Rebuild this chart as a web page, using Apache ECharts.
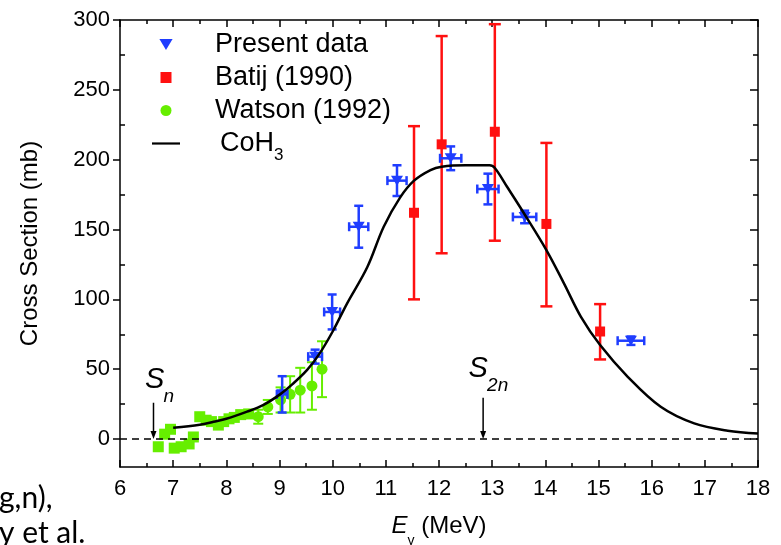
<!DOCTYPE html>
<html><head><meta charset="utf-8">
<script src="https://cdn.jsdelivr.net/npm/echarts@6/dist/echarts.min.js"></script>
<style>html,body{margin:0;padding:0;background:#fff}#c{width:781px;height:545px}</style>
</head><body><div id="c"></div>
<script>
// ---- data ----
const xTicks = [6,7,8,9,10,11,12,13,14,15,16,17,18];
const xMinorTicks = [6.5,7.5,8.5,9.5,10.5,11.5,12.5,13.5,14.5,15.5,16.5,17.5];
const yTicks = [0,50,100,150,200,250,300];
const yMinorTicks = [25,75,125,175,225,275];

const presentX    = [9.05, 9.67, 9.99, 10.49, 11.21, 12.22, 12.92, 13.61, 15.61];
const presentY    = [32, 59, 91, 152, 185, 201, 179, 159, 70.4];
const presentYErr = [13, 5, 12.5, 15, 11, 8.5, 11, 4.5, 3];
const presentXErr = [0.1, 0.13, 0.15, 0.18, 0.18, 0.2, 0.2, 0.22, 0.25];

const batijX    = [11.53, 12.05, 13.05, 14.02, 15.03];
const batijY    = [162, 211, 220, 154, 77];
const batijLow  = [100, 133, 142, 95, 57];
const batijHigh = [224, 288.5, 297, 212, 96.6];

const watsonX   = [6.72, 6.84, 6.95, 7.02, 7.15, 7.3, 7.38, 7.5, 7.62, 7.72, 7.85, 7.95, 8.05, 8.15, 8.27, 8.42, 8.6, 8.78, 9.02, 9.2, 9.39, 9.61, 9.8];
const watsonY   = [-5.5, 3.5, 7, -6.5, -5.5, -3.5, 1.5, 16, 13.5, 12.5, 10, 12.5, 14.5, 15.5, 17.5, 18, 16, 23, 28, 32, 35, 38, 50];
const watsonErr = [0, 0, 0, 0, 0, 0, 0, 0, 0, 0, 0, 0, 0, 0, 0, 0, 5, 5, 9, 13, 16, 17, 20];

const cohX = [7.0, 7.5, 7.76, 8.0, 8.39, 8.7, 9.01, 9.25, 9.52, 9.75, 10.0, 10.27, 10.65, 10.96, 11.27, 11.53, 11.84, 12.05, 12.5, 12.95, 13.05, 13.28, 13.6, 14.02, 14.35, 14.67, 15.03, 15.55, 16.17, 16.8, 17.43, 18.0];
const cohY = [8.1, 10.3, 12.4, 14.5, 19.6, 24.5, 32, 39.5, 49.5, 61, 77, 97, 123, 152, 173, 185, 192.6, 195, 196, 196, 194, 180.6, 161.5, 135.3, 111.5, 87.5, 67.3, 44.6, 23.1, 11.2, 6, 4];

const markMain   = ['S', 'S'];
const markSub    = ['n', '2n'];
const markLabelX = [6.65, 12.735];
const markLabelY = [42, 50];
const arrowX     = [6.63, 12.83];
const arrowTop   = [26, 29.5];

// ---- build ----
const FONT = '"Liberation Sans", Arial, sans-serif';
const BLUE = '#1f3dff', RED = '#ff1010', GREEN = '#66ee00';

const zip = (a, b) => a.map((v, i) => [v, b[i]]);
const presentErr = presentX.map((x, i) => [x, presentY[i], presentY[i] - presentYErr[i], presentY[i] + presentYErr[i], x - presentXErr[i], x + presentXErr[i]]);
const batijErr = batijX.map((x, i) => [x, batijY[i], batijLow[i], batijHigh[i], x, x]);
const watsonErrData = watsonX.map((x, i) => [x, watsonY[i], watsonY[i] - watsonErr[i], watsonY[i] + watsonErr[i], x, x]).filter(d => d[3] > d[2]);
const marks = markMain.map((m, i) => [markLabelX[i], markLabelY[i], arrowX[i], arrowTop[i]]);

function errRender(color, capV, capH, lw) {
  return function (params, api) {
    const x = api.value(0), y = api.value(1), ylo = api.value(2), yhi = api.value(3), xlo = api.value(4), xhi = api.value(5);
    const style = { stroke: color, lineWidth: lw };
    const ch = [];
    const L = (x1, y1, x2, y2) => ch.push({ type: 'line', shape: { x1, y1, x2, y2 }, style });
    if (yhi > ylo) {
      const a = api.coord([x, ylo]), b = api.coord([x, yhi]);
      L(a[0], a[1], b[0], b[1]);
      L(a[0] - capV / 2, a[1], a[0] + capV / 2, a[1]);
      L(b[0] - capV / 2, b[1], b[0] + capV / 2, b[1]);
    }
    if (xhi > xlo) {
      const a = api.coord([xlo, y]), b = api.coord([xhi, y]);
      L(a[0], a[1], b[0], b[1]);
      L(a[0], a[1] - capH / 2, a[0], a[1] + capH / 2);
      L(b[0], b[1] - capH / 2, b[0], b[1] + capH / 2);
    }
    return { type: 'group', children: ch };
  };
}

function markRender(params, api) {
  const i = params.dataIndex;
  const s = api.coord([api.value(0), api.value(1)]);
  const t = api.coord([api.value(2), api.value(3)]);
  const b = api.coord([api.value(2), 0]);
  return { type: 'group', children: [
    { type: 'text', x: s[0], y: s[1], style: { text: markMain[i], font: 'italic 29px ' + FONT, fill: '#000', align: 'center', verticalAlign: 'middle', textAlign: 'center', textVerticalAlign: 'middle' } },
    { type: 'text', x: s[0] + 9, y: s[1] + 16, style: { text: markSub[i], font: 'italic 19px ' + FONT, fill: '#000', align: 'left', verticalAlign: 'middle', textAlign: 'left', textVerticalAlign: 'middle' } },
    { type: 'line', shape: { x1: t[0], y1: t[1], x2: b[0], y2: b[1] - 5 }, style: { stroke: '#000', lineWidth: 1.5 } },
    { type: 'polygon', shape: { points: [[b[0] - 3, b[1] - 8], [b[0] + 3, b[1] - 8], [b[0], b[1]]] }, style: { fill: '#000' } }
  ] };
}

const lineStyleAxis = { color: '#000', width: 1.5 };
const baseX = { type: 'value', min: 6, max: 18, splitLine: { show: false }, axisLabel: { show: false }, axisLine: { show: false, onZero: false } };
const baseY = { type: 'value', min: -20, max: 300, splitLine: { show: false }, axisLabel: { show: false }, axisLine: { show: false, onZero: false } };

const chart = echarts.init(document.getElementById('c'), null, { renderer: 'canvas' });
chart.setOption({
  animation: false,
  backgroundColor: '#fff',
  grid: { left: 120, right: 23, top: 20, bottom: 78, containLabel: false, outerBoundsMode: 'none' },
  legend: {
    orient: 'vertical', left: 152, top: 31, padding: 0, itemGap: 6,
    itemWidth: 28, itemHeight: 11, selectedMode: false, symbolKeepAspect: true,
    data: [
      { name: 'Present data', icon: 'path://M0,0L12,0L6,10Z' },
      { name: 'Batij (1990)', icon: 'path://M0,0L10,0L10,10L0,10Z' },
      { name: 'Watson (1992)', icon: 'circle' },
      { name: 'CoH3', icon: 'path://M0,0L28,0L28,2.2L0,2.2Z' }
    ],
    formatter: n => n === 'CoH3' ? '{a|CoH}{b|3}' : '{n|' + n + '}',
    textStyle: {
      color: '#000', fontFamily: FONT, fontSize: 27, padding: [0, 0, 0, 30],
      rich: {
        n: { fontSize: 27, lineHeight: 30, fontFamily: FONT, color: '#000' },
        a: { fontSize: 27, lineHeight: 40, fontFamily: FONT, color: '#000', padding: [0, 0, 0, 5] },
        b: { fontSize: 17, lineHeight: 17, fontFamily: FONT, color: '#000', verticalAlign: 'bottom' }
      }
    }
  },
  xAxis: [
    Object.assign({}, baseX, {
      position: 'bottom',
      axisLine: { show: true, onZero: false, lineStyle: lineStyleAxis },
      axisTick: { show: true, inside: true, length: 7, customValues: xTicks, lineStyle: lineStyleAxis },
      axisLabel: { show: true, customValues: xTicks, fontSize: 22, color: '#000', fontFamily: FONT, margin: 11 },
      name: '{e|E}{g|γ}{t| (MeV)}', nameLocation: 'middle', nameGap: 37,
      nameTextStyle: { rich: {
        e: { fontSize: 24, fontStyle: 'italic', fontFamily: FONT, color: '#000', lineHeight: 44 },
        g: { fontSize: 14, fontFamily: FONT, color: '#000', lineHeight: 14, verticalAlign: 'bottom' },
        t: { fontSize: 24, fontFamily: FONT, color: '#000', lineHeight: 44 }
      } }
    }),
    Object.assign({}, baseX, { position: 'bottom', axisTick: { show: true, inside: true, length: 4, customValues: xMinorTicks, lineStyle: lineStyleAxis } }),
    Object.assign({}, baseX, { position: 'top', axisLine: { show: true, onZero: false, lineStyle: lineStyleAxis },
      axisTick: { show: true, inside: true, length: 7, customValues: xTicks, lineStyle: lineStyleAxis } }),
    Object.assign({}, baseX, { position: 'top', axisTick: { show: true, inside: true, length: 4, customValues: xMinorTicks, lineStyle: lineStyleAxis } })
  ],
  yAxis: [
    Object.assign({}, baseY, {
      position: 'left',
      axisLine: { show: true, onZero: false, lineStyle: lineStyleAxis },
      axisTick: { show: true, inside: false, length: 7, customValues: yTicks, lineStyle: lineStyleAxis },
      axisLabel: { show: true, customValues: yTicks, fontSize: 22, color: '#000', fontFamily: FONT, margin: 10 },
      name: 'Cross Section (mb)', nameLocation: 'middle', nameGap: 78,
      nameTextStyle: { fontSize: 24, fontFamily: FONT, color: '#000' }
    }),
    Object.assign({}, baseY, { position: 'left', axisTick: { show: true, inside: true, length: 5, customValues: yMinorTicks, lineStyle: lineStyleAxis } }),
    Object.assign({}, baseY, { position: 'right', axisLine: { show: true, onZero: false, lineStyle: lineStyleAxis },
      axisTick: { show: true, inside: true, length: 8, customValues: yTicks, lineStyle: lineStyleAxis } }),
    Object.assign({}, baseY, { position: 'right', axisTick: { show: true, inside: true, length: 5, customValues: yMinorTicks, lineStyle: lineStyleAxis } })
  ],
  graphic: [
    { type: 'text', left: -1, top: 483, style: { text: 'g,n),', font: '30px Lato, "Open Sans", sans-serif', fill: '#000' } },
    { type: 'text', left: -1, top: 518, style: { text: 'y et al.', font: '30px Lato, "Open Sans", sans-serif', fill: '#000' } }
  ],
  series: [
    { name: 'Watson err', type: 'custom', renderItem: errRender(GREEN, 10, 0, 2), data: watsonErrData, encode: { x: 0, y: 1 }, z: 2, silent: true },
    { name: 'Watson (1992)', type: 'scatter', data: zip(watsonX, watsonY), itemStyle: { color: GREEN, opacity: 1 },
      symbol: v => v[0] < 8.5 ? 'rect' : 'circle', symbolSize: 11, z: 3 },
    { name: 'Batij err', type: 'custom', renderItem: errRender(RED, 12, 0, 2.5), data: batijErr, encode: { x: 0, y: 1 }, z: 2, silent: true },
    { name: 'Batij (1990)', type: 'scatter', data: zip(batijX, batijY), itemStyle: { color: RED, opacity: 1 }, symbol: 'rect', symbolSize: 10, z: 3 },
    { name: 'Present err', type: 'custom', renderItem: errRender(BLUE, 9, 9, 2.5), data: presentErr, encode: { x: 0, y: 1 }, z: 4, silent: true },
    { name: 'Present data', type: 'scatter', data: zip(presentX, presentY), itemStyle: { color: BLUE, opacity: 1 },
      symbol: 'triangle', symbolRotate: 180, symbolSize: [12, 10], z: 4 },
    { name: 'CoH3', type: 'line', data: zip(cohX, cohY), showSymbol: false, symbol: 'none', smooth: 0.35,
      lineStyle: { color: '#000', width: 2.5 }, itemStyle: { color: '#000' }, z: 5,
      markLine: { silent: true, symbol: ['none', 'none'], label: { show: false },
        lineStyle: { color: '#000', width: 1.5, type: [7, 5] },
        data: [[{ coord: [6, 0] }, { coord: [18, 0] }]] } },
    { name: 'marks', type: 'custom', renderItem: markRender, data: marks, encode: { x: 0, y: 1 }, z: 6, silent: true }
  ]
});
</script>
</body></html>
